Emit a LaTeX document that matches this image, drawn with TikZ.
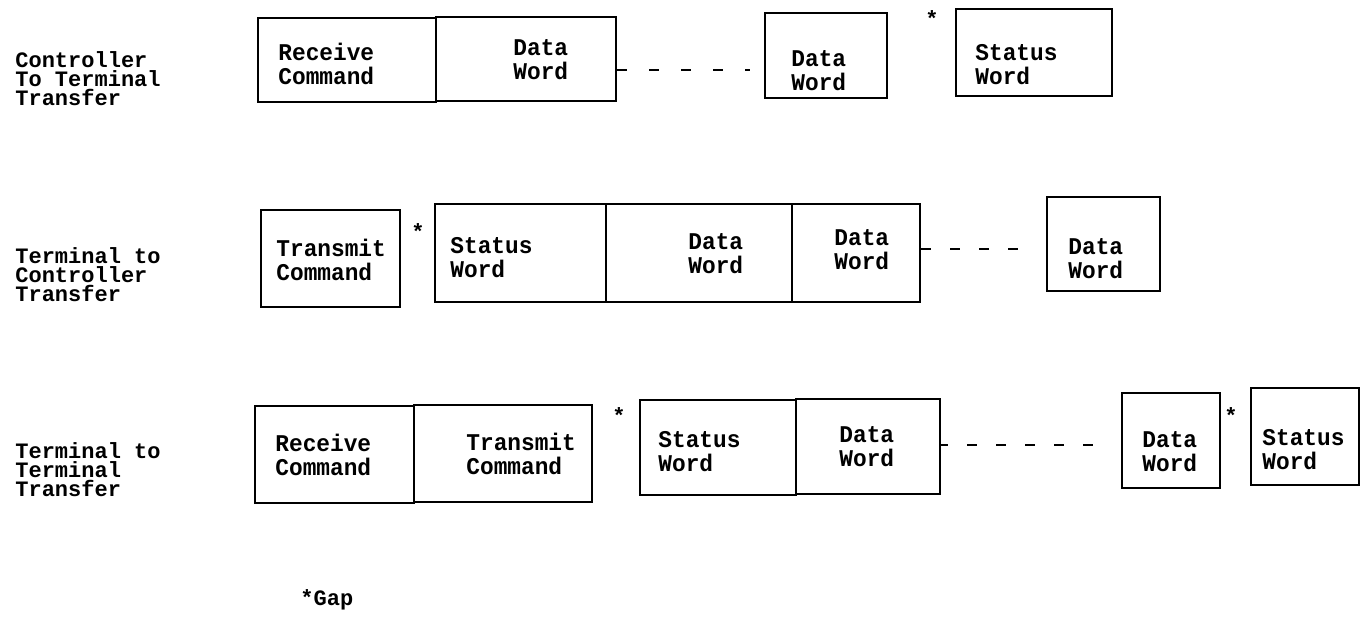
\documentclass[tikz,border=0pt]{standalone}
\usepackage{fontspec}
\newfontfamily\twfont[FakeStretch=0.95]{Liberation Mono}
\newfontfamily\lbfont{Liberation Mono}
\usetikzlibrary{fit}
\tikzset{
  wbox/.style={draw, line width=1.4pt, inner sep=0pt},
  btxt/.style={anchor=west, align=left, inner sep=0pt,
    font=\twfont\bfseries\fontsize{12}{12}\selectfont},
  ltxt/.style={anchor=west, align=left, inner sep=0pt,
    font=\lbfont\bfseries\fontsize{11}{9.5}\selectfont},
  gapmark/.style={inner sep=0pt, font=\lbfont\bfseries\fontsize{11}{11}\selectfont},
  dashline/.style={line width=1pt, dash pattern=on 5pt off 9.5pt}
}
\begin{document}
\begin{tikzpicture}[x=0.5pt,y=-0.5pt]
\useasboundingbox (0,0) rectangle (1363,619);
\fill[white] (0,0) rectangle (1363,619);

% left labels
\node[ltxt] (lab1) at (15,79) {Controller\\To Terminal\\Transfer};
\node[ltxt] (lab2) at (15,275) {Terminal to\\Controller\\Transfer};
\node[ltxt] (lab3) at (15,470) {Terminal to\\Terminal\\Transfer};

% ---- row 1
\node[wbox, fit={(258,18) (436,102)}] (r1a) {};
\node[wbox, fit={(436,17) (616,101)}] (r1b) {};
\node[wbox, fit={(765,13) (887,98)}] (r1c) {};
\node[wbox, fit={(956,9) (1112,96)}] (r1d) {};
\node[gapmark] (g1) at (932,19) {*};
\node[btxt] (t1a) at (278,64) {Receive\\Command};
\node[btxt] (t1b) at (513,60) {Data\\Word};
\node[btxt] (t1c) at (791,71) {Data\\Word};
\node[btxt] (t1d) at (975,65) {Status\\Word};
\coordinate (y1) at (0,70);
\draw[dashline, dash pattern=on 5pt off 11pt, shorten >=7pt] (r1b.east |- y1) -- (r1c.west |- y1);

% ---- row 2
\node[wbox, fit={(261,210) (400,307)}] (r2a) {};
\node[gapmark] (g2) at (418,232) {*};
\node[wbox, fit={(435,204) (606,302)}] (r2b) {};
\node[wbox, fit={(606,204) (792,302)}] (r2c) {};
\node[wbox, fit={(792,204) (920,302)}] (r2d) {};
\node[wbox, fit={(1047,197) (1160,291)}] (r2e) {};
\node[btxt] (t2a) at (276,260) {Transmit\\Command};
\node[btxt] (t2b) at (450,258) {Status\\Word};
\node[btxt] (t2c) at (688,254) {Data\\Word};
\node[btxt] (t2d) at (834,250) {Data\\Word};
\node[btxt] (t2e) at (1068,259) {Data\\Word};
\coordinate (y2) at (0,249);
\draw[dashline, shorten >=12pt] (r2d.east |- y2) -- (r2e.west |- y2);

% ---- row 3
\node[wbox, fit={(255,406) (414,503)}] (r3a) {};
\node[wbox, fit={(414,405) (592,502)}] (r3b) {};
\node[gapmark] (g3) at (619,416) {*};
\node[wbox, fit={(640,400) (796,495)}] (r3c) {};
\node[wbox, fit={(796,399) (940,494)}] (r3d) {};
\node[wbox, fit={(1122,393) (1220,488)}] (r3e) {};
\node[gapmark] (g4) at (1231,416) {*};
\node[wbox, fit={(1251,388) (1359,485)}] (r3f) {};
\node[btxt] (t3a) at (275,455) {Receive\\Command};
\node[btxt] (t3b) at (466,454) {Transmit\\Command};
\node[btxt] (t3c) at (658,452) {Status\\Word};
\node[btxt] (t3d) at (839,447) {Data\\Word};
\node[btxt] (t3e) at (1142,452) {Data\\Word};
\node[btxt] (t3f) at (1262,450) {Status\\Word};
\coordinate (y3) at (0,445);
\draw[dashline, dash phase=1.5pt, shorten >=14pt] (r3d.east |- y3) -- (r3e.west |- y3);

% footnote
\node[ltxt] (gap) at (300,600) {*Gap};
\end{tikzpicture}
\end{document}
